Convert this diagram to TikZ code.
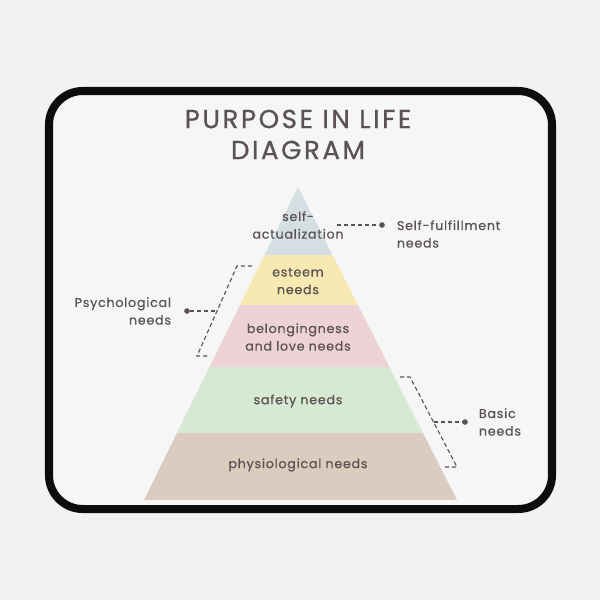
\documentclass[tikz,border=0pt]{standalone}
\usepackage{fontspec}
\setmainfont{Poppins}[LetterSpace=6.0, FakeBold=0.6]
\newfontfamily\titlefont{Poppins}[LetterSpace=10.0, FakeBold=0.9]
\usetikzlibrary{positioning}
\definecolor{ink}{HTML}{5B5353}
\definecolor{outside}{HTML}{F2F2F4}
\definecolor{padbg}{HTML}{F6F6F6}
\definecolor{selfcol}{HTML}{D5DFE3}
\definecolor{esteemcol}{HTML}{F6EAB2}
\definecolor{lovecol}{HTML}{EDD3D5}
\definecolor{safecol}{HTML}{D6E9D2}
\definecolor{physcol}{HTML}{DCCCBF}
\tikzset{
  layertext/.style={text=ink, font=\fontsize{9}{12.5}\selectfont, align=center},
  sidetext/.style={text=ink, font=\fontsize{9}{12.5}\selectfont},
  titletext/.style={text=ink, font=\titlefont\fontsize{18.5}{22}\selectfont},
  dashline/.style={ink, line width=0.8pt, dash pattern=on 3pt off 2pt},
  dot/.style={circle, fill=ink, inner sep=0pt, minimum size=4pt}
}

\begin{document}
\begin{tikzpicture}[x=0.025cm, y=-0.025cm]
  \useasboundingbox (0,0) rectangle (600,600);
  \fill[outside] (0,0) rectangle (600,600);
  % mouse pad
  \draw[line width=5.7pt, rounded corners=24, fill=padbg, draw=black!95] (49,91) rectangle (552,509);
  % title
  \node[titletext] (title1) at (298,119) {PURPOSE IN LIFE};
  \node[titletext] (title2) at (298,150) {DIAGRAM};
  % pyramid layers
  \begin{scope}
    \clip (298,187) -- (144,500) -- (457,500) -- cycle;
    \fill[selfcol] (100,180) rectangle (500,255);
    \fill[esteemcol] (100,255) rectangle (500,305);
    \fill[lovecol] (100,305) rectangle (500,367);
    \fill[safecol] (100,367) rectangle (500,433);
    \fill[physcol] (100,433) rectangle (500,500);
  \end{scope}
  \node[layertext] (selfact) at (298,225) {self-\\actualization};
  \node[layertext] (esteem) at (298,281) {esteem\\needs};
  \node[layertext] (love) at (298,337) {belongingness\\and love needs};
  \node[layertext] (safety) at (298,401) {safety needs};
  \node[layertext] (physio) at (298,465) {physiological needs};
  % self-fulfillment
  \coordinate (sfstart) at (337,225);
  \node[dot] (sfdot) at (382,225) {};
  \node[sidetext, align=left, anchor=west] (sflabel) at (392,234) {Self-fulfillment\\needs};
  \draw[dashline] (sfstart) -- (sfdot);
  % psychological
  \coordinate (ps1) at (252,266);
  \coordinate (ps2) at (237,266);
  \coordinate (ps3) at (197,356);
  \coordinate (ps4) at (208,356);
  \coordinate (psmid) at (217,311);
  \node[dot] (psdot) at (187,311) {};
  \node[sidetext, align=right, anchor=east] (pslabel) at (176,311) {Psychological\\needs};
  \draw[dashline] (ps1) -- (ps2) -- (ps3) -- (ps4);
  \draw[dashline] (psdot) -- (psmid);
  % basic
  \coordinate (bs1) at (400,377);
  \coordinate (bs2) at (410,377);
  \coordinate (bs3) at (457,467);
  \coordinate (bs4) at (445,467);
  \coordinate (bsmid) at (433.5,422);
  \node[dot] (bsdot) at (465,422) {};
  \node[sidetext, align=left, anchor=west] (bslabel) at (474,422) {Basic\\needs};
  \draw[dashline] (bs1) -- (bs2) -- (bs3) -- (bs4);
  \draw[dashline] (bsmid) -- (bsdot);
\end{tikzpicture}
\end{document}
